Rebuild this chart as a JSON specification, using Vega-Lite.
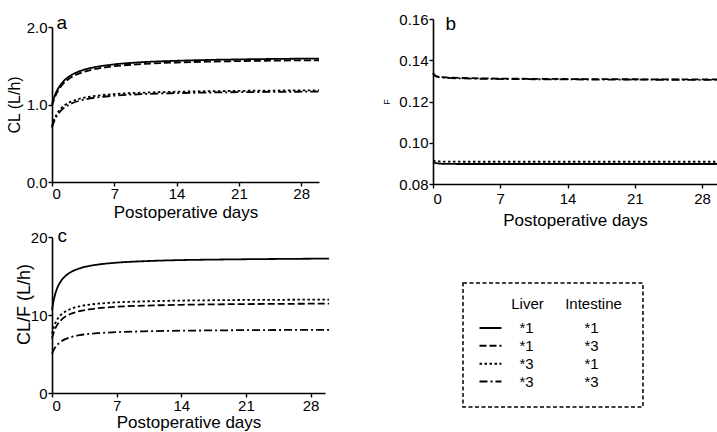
{
  "$schema": "https://vega.github.io/schema/vega-lite/v6.json",
  "padding": {"left": 6, "top": 12, "right": 0, "bottom": 0},
  "background": "white",
  "bounds": "full",
  "center": true,
  "spacing": 49,
  "config": {
    "font": "Liberation Sans",
    "view": {"stroke": null},
    "axis": {
      "grid": false,
      "domainColor": "black",
      "domainWidth": 1.6,
      "tickColor": "black",
      "tickWidth": 1.4,
      "tickSize": 4,
      "labelColor": "black",
      "labelFont": "Liberation Sans",
      "labelFontSize": 15,
      "labelPadding": 1,
      "titleFont": "Liberation Sans",
      "titleFontSize": 17,
      "titleFontWeight": "normal",
      "titleColor": "black",
      "titlePadding": 2
    },
    "line": {"color": "black", "strokeWidth": 1.8, "clip": true, "interpolate": "monotone"},
    "text": {"font": "Liberation Sans", "color": "black"}
  },
  "datasets": {
    "curves": [
      {"p":"a","g":"1/1","d":0,"v":1.00},{"p":"a","g":"1/1","d":0.1,"v":1.042},{"p":"a","g":"1/1","d":0.25,"v":1.095},{"p":"a","g":"1/1","d":0.5,"v":1.165},{"p":"a","g":"1/1","d":1,"v":1.26},{"p":"a","g":"1/1","d":1.5,"v":1.323},{"p":"a","g":"1/1","d":2,"v":1.367},{"p":"a","g":"1/1","d":3,"v":1.425},{"p":"a","g":"1/1","d":4,"v":1.461},{"p":"a","g":"1/1","d":5,"v":1.486},{"p":"a","g":"1/1","d":7,"v":1.518},{"p":"a","g":"1/1","d":10,"v":1.545},{"p":"a","g":"1/1","d":14,"v":1.564},{"p":"a","g":"1/1","d":18,"v":1.576},{"p":"a","g":"1/1","d":21,"v":1.582},{"p":"a","g":"1/1","d":25,"v":1.588},{"p":"a","g":"1/1","d":30,"v":1.593},
      {"p":"a","g":"1/3","d":0,"v":0.98},{"p":"a","g":"1/3","d":0.1,"v":1.020},{"p":"a","g":"1/3","d":0.25,"v":1.071},{"p":"a","g":"1/3","d":0.5,"v":1.139},{"p":"a","g":"1/3","d":1,"v":1.233},{"p":"a","g":"1/3","d":1.5,"v":1.295},{"p":"a","g":"1/3","d":2,"v":1.339},{"p":"a","g":"1/3","d":3,"v":1.398},{"p":"a","g":"1/3","d":4,"v":1.435},{"p":"a","g":"1/3","d":5,"v":1.461},{"p":"a","g":"1/3","d":7,"v":1.494},{"p":"a","g":"1/3","d":10,"v":1.521},{"p":"a","g":"1/3","d":14,"v":1.542},{"p":"a","g":"1/3","d":18,"v":1.554},{"p":"a","g":"1/3","d":21,"v":1.560},{"p":"a","g":"1/3","d":25,"v":1.566},{"p":"a","g":"1/3","d":30,"v":1.571},
      {"p":"a","g":"3/1","d":0,"v":0.72},{"p":"a","g":"3/1","d":0.1,"v":0.76},{"p":"a","g":"3/1","d":0.25,"v":0.809},{"p":"a","g":"3/1","d":0.5,"v":0.87},{"p":"a","g":"3/1","d":1,"v":0.949},{"p":"a","g":"3/1","d":1.5,"v":0.997},{"p":"a","g":"3/1","d":2,"v":1.030},{"p":"a","g":"3/1","d":3,"v":1.071},{"p":"a","g":"3/1","d":4,"v":1.096},{"p":"a","g":"3/1","d":5,"v":1.113},{"p":"a","g":"3/1","d":7,"v":1.135},{"p":"a","g":"3/1","d":10,"v":1.152},{"p":"a","g":"3/1","d":14,"v":1.165},{"p":"a","g":"3/1","d":18,"v":1.172},{"p":"a","g":"3/1","d":21,"v":1.176},{"p":"a","g":"3/1","d":25,"v":1.180},{"p":"a","g":"3/1","d":30,"v":1.183},
      {"p":"a","g":"3/3","d":0,"v":0.70},{"p":"a","g":"3/3","d":0.1,"v":0.737},{"p":"a","g":"3/3","d":0.25,"v":0.784},{"p":"a","g":"3/3","d":0.5,"v":0.843},{"p":"a","g":"3/3","d":1,"v":0.920},{"p":"a","g":"3/3","d":1.5,"v":0.969},{"p":"a","g":"3/3","d":2,"v":1.003},{"p":"a","g":"3/3","d":3,"v":1.046},{"p":"a","g":"3/3","d":4,"v":1.073},{"p":"a","g":"3/3","d":5,"v":1.091},{"p":"a","g":"3/3","d":7,"v":1.114},{"p":"a","g":"3/3","d":10,"v":1.133},{"p":"a","g":"3/3","d":14,"v":1.147},{"p":"a","g":"3/3","d":18,"v":1.155},{"p":"a","g":"3/3","d":21,"v":1.159},{"p":"a","g":"3/3","d":25,"v":1.163},{"p":"a","g":"3/3","d":30,"v":1.166},
      {"p":"b","g":"1/1","d":0,"v":0.0905},{"p":"b","g":"1/1","d":0.5,"v":0.0900},{"p":"b","g":"1/1","d":1,"v":0.0898},{"p":"b","g":"1/1","d":3,"v":0.0897},{"p":"b","g":"1/1","d":10,"v":0.0897},{"p":"b","g":"1/1","d":30,"v":0.0897},
      {"p":"b","g":"3/1","d":0,"v":0.0913},{"p":"b","g":"3/1","d":0.5,"v":0.0910},{"p":"b","g":"3/1","d":1,"v":0.0909},{"p":"b","g":"3/1","d":3,"v":0.0908},{"p":"b","g":"3/1","d":10,"v":0.0908},{"p":"b","g":"3/1","d":30,"v":0.0908},
      {"p":"b","g":"1/3","d":0,"v":0.1338},{"p":"b","g":"1/3","d":0.25,"v":0.1325},{"p":"b","g":"1/3","d":0.5,"v":0.1321},{"p":"b","g":"1/3","d":1,"v":0.1318},{"p":"b","g":"1/3","d":3,"v":0.1314},{"p":"b","g":"1/3","d":10,"v":0.1310},{"p":"b","g":"1/3","d":30,"v":0.1307},
      {"p":"b","g":"3/3","d":0,"v":0.1336},{"p":"b","g":"3/3","d":0.25,"v":0.1323},{"p":"b","g":"3/3","d":0.5,"v":0.1319},{"p":"b","g":"3/3","d":1,"v":0.1316},{"p":"b","g":"3/3","d":3,"v":0.1312},{"p":"b","g":"3/3","d":10,"v":0.1308},{"p":"b","g":"3/3","d":30,"v":0.1305},
      {"p":"c","g":"1/1","d":0,"v":10.6},{"p":"c","g":"1/1","d":0.1,"v":11.36},{"p":"c","g":"1/1","d":0.25,"v":12.23},{"p":"c","g":"1/1","d":0.5,"v":13.24},{"p":"c","g":"1/1","d":1,"v":14.40},{"p":"c","g":"1/1","d":1.5,"v":15.05},{"p":"c","g":"1/1","d":2,"v":15.47},{"p":"c","g":"1/1","d":3,"v":15.98},{"p":"c","g":"1/1","d":4,"v":16.28},{"p":"c","g":"1/1","d":5,"v":16.47},{"p":"c","g":"1/1","d":7,"v":16.71},{"p":"c","g":"1/1","d":10,"v":16.90},{"p":"c","g":"1/1","d":14,"v":17.04},{"p":"c","g":"1/1","d":18,"v":17.11},{"p":"c","g":"1/1","d":21,"v":17.15},{"p":"c","g":"1/1","d":25,"v":17.19},{"p":"c","g":"1/1","d":30,"v":17.23},
      {"p":"c","g":"3/1","d":0,"v":7.6},{"p":"c","g":"3/1","d":0.1,"v":8.08},{"p":"c","g":"3/1","d":0.25,"v":8.63},{"p":"c","g":"3/1","d":0.5,"v":9.28},{"p":"c","g":"3/1","d":1,"v":10.05},{"p":"c","g":"3/1","d":1.5,"v":10.48},{"p":"c","g":"3/1","d":2,"v":10.77},{"p":"c","g":"3/1","d":3,"v":11.12},{"p":"c","g":"3/1","d":4,"v":11.32},{"p":"c","g":"3/1","d":5,"v":11.45},{"p":"c","g":"3/1","d":7,"v":11.62},{"p":"c","g":"3/1","d":10,"v":11.75},{"p":"c","g":"3/1","d":14,"v":11.85},{"p":"c","g":"3/1","d":18,"v":11.90},{"p":"c","g":"3/1","d":21,"v":11.93},{"p":"c","g":"3/1","d":25,"v":11.95},{"p":"c","g":"3/1","d":30,"v":11.98},
      {"p":"c","g":"1/3","d":0,"v":7.0},{"p":"c","g":"1/3","d":0.1,"v":7.44},{"p":"c","g":"1/3","d":0.25,"v":7.97},{"p":"c","g":"1/3","d":0.5,"v":8.60},{"p":"c","g":"1/3","d":1,"v":9.37},{"p":"c","g":"1/3","d":1.5,"v":9.83},{"p":"c","g":"1/3","d":2,"v":10.13},{"p":"c","g":"1/3","d":3,"v":10.50},{"p":"c","g":"1/3","d":4,"v":10.72},{"p":"c","g":"1/3","d":5,"v":10.87},{"p":"c","g":"1/3","d":7,"v":11.06},{"p":"c","g":"1/3","d":10,"v":11.20},{"p":"c","g":"1/3","d":14,"v":11.31},{"p":"c","g":"1/3","d":18,"v":11.37},{"p":"c","g":"1/3","d":21,"v":11.40},{"p":"c","g":"1/3","d":25,"v":11.43},{"p":"c","g":"1/3","d":30,"v":11.46},
      {"p":"c","g":"3/3","d":0,"v":5.0},{"p":"c","g":"3/3","d":0.1,"v":5.29},{"p":"c","g":"3/3","d":0.25,"v":5.65},{"p":"c","g":"3/3","d":0.5,"v":6.07},{"p":"c","g":"3/3","d":1,"v":6.61},{"p":"c","g":"3/3","d":1.5,"v":6.93},{"p":"c","g":"3/3","d":2,"v":7.14},{"p":"c","g":"3/3","d":3,"v":7.41},{"p":"c","g":"3/3","d":4,"v":7.57},{"p":"c","g":"3/3","d":5,"v":7.67},{"p":"c","g":"3/3","d":7,"v":7.80},{"p":"c","g":"3/3","d":10,"v":7.91},{"p":"c","g":"3/3","d":14,"v":7.99},{"p":"c","g":"3/3","d":18,"v":8.03},{"p":"c","g":"3/3","d":21,"v":8.06},{"p":"c","g":"3/3","d":25,"v":8.08},{"p":"c","g":"3/3","d":30,"v":8.10}
    ],
    "legendRows": [
      {"row": 1, "liver": "*1", "intestine": "*1", "g": "1/1"},
      {"row": 2, "liver": "*1", "intestine": "*3", "g": "1/3"},
      {"row": 3, "liver": "*3", "intestine": "*1", "g": "3/1"},
      {"row": 4, "liver": "*3", "intestine": "*3", "g": "3/3"}
    ]
  },
  "hconcat": [
    {
      "bounds": "flush",
      "spacing": 55,
      "vconcat": [
        {
          "width": 267,
          "height": 155,
          "layer": [
            {
              "data": {"name": "curves"},
              "transform": [{"filter": "datum.p === 'a'"}],
              "mark": {"type": "line"},
              "encoding": {
                "x": {"field": "d", "type": "quantitative", "scale": {"domain": [0, 30], "nice": false}, "axis": {"values": [0, 7, 14, 21, 28], "title": "Postoperative days", "labelPadding": 0, "titlePadding": 3}},
                "y": {"field": "v", "type": "quantitative", "scale": {"domain": [0, 2], "nice": false}, "axis": {"values": [0, 0.5, 1, 1.5, 2], "format": ".1f", "title": "CL (L/h)", "titleFontSize": 16, "titlePadding": 4}},
                "strokeDash": {"field": "g", "type": "nominal", "scale": {"domain": ["1/1", "1/3", "3/1", "3/3"], "range": [[1, 0], [7, 3], [2.5, 2.5], [8, 3, 2, 3]]}, "legend": null}
              }
            },
            {
              "data": {"values": [{"label": "a"}]},
              "mark": {"type": "text", "align": "left", "baseline": "alphabetic", "fontSize": 19},
              "encoding": {"x": {"datum": 0.5}, "y": {"datum": 1.975}, "text": {"field": "label"}}
            }
          ]
        },
        {
          "width": 273,
          "height": 156,
          "layer": [
            {
              "data": {"name": "curves"},
              "transform": [{"filter": "datum.p === 'c'"}],
              "mark": {"type": "line"},
              "encoding": {
                "x": {"field": "d", "type": "quantitative", "scale": {"domain": [0, 29.56], "nice": false}, "axis": {"values": [0, 7, 14, 21, 28], "title": "Postoperative days", "labelPadding": 1, "titlePadding": 1}},
                "y": {"field": "v", "type": "quantitative", "scale": {"domain": [0, 20], "nice": false}, "axis": {"values": [0, 5, 10, 15, 20], "format": "d", "title": "CL/F (L/h)", "titleFontSize": 18, "titlePadding": -3, "titleY": 67}},
                "strokeDash": {"field": "g", "type": "nominal", "scale": {"domain": ["1/1", "1/3", "3/1", "3/3"], "range": [[1, 0], [7, 3], [2.5, 2.5], [8, 3, 2, 3]]}, "legend": null}
              }
            },
            {
              "data": {"values": [{"label": "c"}]},
              "mark": {"type": "text", "align": "left", "baseline": "alphabetic", "fontSize": 19},
              "encoding": {"x": {"datum": 0.6}, "y": {"datum": 19.4}, "text": {"field": "label"}}
            }
          ]
        }
      ]
    },
    {
      "bounds": "flush",
      "spacing": 99,
      "vconcat": [
        {
          "width": 284,
          "height": 165,
          "layer": [
            {
              "data": {"name": "curves"},
              "transform": [{"filter": "datum.p === 'b'"}],
              "mark": {"type": "line"},
              "encoding": {
                "x": {"field": "d", "type": "quantitative", "scale": {"domain": [0, 29.56], "nice": false}, "axis": {"values": [0, 7, 14, 21, 28], "title": "Postoperative days", "labelPadding": 3, "titlePadding": 6}},
                "y": {"field": "v", "type": "quantitative", "scale": {"domain": [0.08, 0.16], "nice": false, "zero": false}, "axis": {"values": [0.08, 0.10, 0.12, 0.14, 0.16], "format": ".2f", "title": "F", "titleFontSize": 9, "titlePadding": 7}},
                "strokeDash": {"field": "g", "type": "nominal", "scale": {"domain": ["1/1", "1/3", "3/1", "3/3"], "range": [[1, 0], [7, 3], [2.5, 2.5], [8, 3, 2, 3]]}, "legend": null}
              }
            },
            {
              "data": {"values": [{"label": "b"}]},
              "mark": {"type": "text", "align": "left", "baseline": "alphabetic", "fontSize": 19},
              "encoding": {"x": {"datum": 1.3}, "y": {"datum": 0.1547}, "text": {"field": "label"}}
            }
          ]
        },
        {
          "width": 210,
          "height": 155,
          "layer": [
            {
              "data": {"values": [{"box": "legend"}]},
              "mark": {"type": "rect", "fill": null, "stroke": "black", "strokeWidth": 1.5, "strokeDash": [4, 2.5]},
              "encoding": {
                "x": {"datum": 3.0, "type": "quantitative", "scale": {"domain": [0, 21], "nice": false}, "axis": null},
                "x2": {"datum": 21.0},
                "y": {"datum": -1.508, "type": "quantitative", "scale": {"domain": [-1.508, 7.151], "nice": false, "zero": false, "reverse": true}, "axis": null},
                "y2": {"datum": 5.419}
              }
            },
            {
              "data": {"name": "legendRows"},
              "mark": {"type": "rule", "strokeWidth": 2, "color": "black"},
              "encoding": {
                "x": {"datum": 4.65, "type": "quantitative"},
                "x2": {"datum": 6.85},
                "y": {"field": "row", "type": "quantitative"},
                "strokeDash": {"field": "g", "type": "nominal", "scale": {"domain": ["1/1", "1/3", "3/1", "3/3"], "range": [[1, 0], [8, 4], [5, 3], [10, 3, 4, 3]]}, "legend": null}
              }
            },
            {
              "data": {"name": "legendRows"},
              "mark": {"type": "text", "align": "center", "baseline": "middle", "fontSize": 15},
              "encoding": {"x": {"datum": 9.35, "type": "quantitative"}, "y": {"field": "row", "type": "quantitative"}, "text": {"field": "liver"}}
            },
            {
              "data": {"name": "legendRows"},
              "mark": {"type": "text", "align": "center", "baseline": "middle", "fontSize": 15},
              "encoding": {"x": {"datum": 15.85, "type": "quantitative"}, "y": {"field": "row", "type": "quantitative"}, "text": {"field": "intestine"}}
            },
            {
              "data": {"values": [{"row": 0, "liver": "Liver", "intestine": "Intestine"}]},
              "mark": {"type": "text", "align": "center", "baseline": "middle", "fontSize": 15, "dy": -6},
              "encoding": {"x": {"datum": 9.45, "type": "quantitative"}, "y": {"field": "row", "type": "quantitative"}, "text": {"field": "liver"}}
            },
            {
              "data": {"values": [{"row": 0, "liver": "Liver", "intestine": "Intestine"}]},
              "mark": {"type": "text", "align": "center", "baseline": "middle", "fontSize": 15, "dy": -6},
              "encoding": {"x": {"datum": 16.05, "type": "quantitative"}, "y": {"field": "row", "type": "quantitative"}, "text": {"field": "intestine"}}
            }
          ]
        }
      ]
    }
  ]
}
